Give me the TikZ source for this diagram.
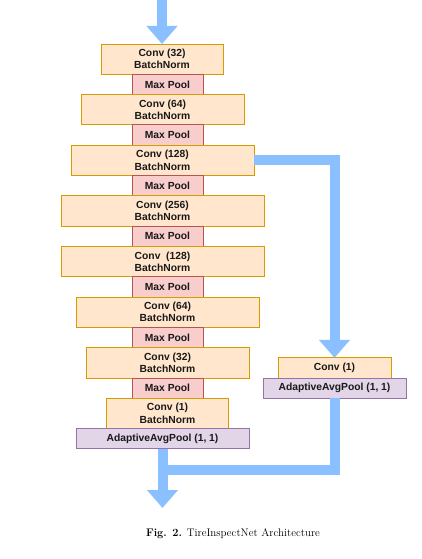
\documentclass[tikz,border=0pt]{standalone}
\usepackage{fontspec}
\newfontfamily\layerfont{Liberation Sans}
\usepackage{tikz}
\usetikzlibrary{arrows.meta, positioning}
\definecolor{convFill}{HTML}{FFE6CC}
\definecolor{convDraw}{HTML}{D79B00}
\definecolor{poolFill}{HTML}{F8CECC}
\definecolor{poolDraw}{HTML}{B85450}
\definecolor{avgFill}{HTML}{E1D5E7}
\definecolor{avgDraw}{HTML}{9673A6}
\definecolor{flowBlue}{RGB}{138, 192, 255}

\begin{document}
\begin{tikzpicture}[x=1pt, y=-1pt,
  node distance=0pt,
  layer/.style={rectangle, line width=0.8pt, inner sep=0pt, outer sep=0pt, align=center,
                text=black!90, font=\layerfont\bfseries\fontsize{10.3}{12.2}\selectfont},
  conv/.style={layer, draw=convDraw, fill=convFill, minimum height=30.3pt},
  pool/.style={layer, draw=poolDraw, fill=poolFill, minimum width=71pt, minimum height=20.3pt},
  avg/.style={layer, draw=avgDraw, fill=avgFill, minimum height=20.3pt},
  flow/.style={draw=flowBlue, line width=10pt, line join=miter,
               -{Triangle[length=18pt, width=30pt]}},
]
  \useasboundingbox (0,0) rectangle (422,559);

  \node[conv, minimum width=122pt] (c1) at (162,59.15) {Conv (32)\\BatchNorm};
  \node[pool, below=of c1, xshift=5.5pt] (m1) {Max Pool};
  \node[conv, minimum width=163pt, below=of m1, xshift=-5pt] (c2) {Conv (64)\\BatchNorm};
  \node[pool, below=of c2, xshift=5pt] (m2) {Max Pool};
  \node[conv, minimum width=183pt, below=of m2, xshift=-5pt] (c3) {Conv (128)\\BatchNorm};
  \node[pool, below=of c3, xshift=5pt] (m3) {Max Pool};
  \node[conv, minimum width=203pt, below=of m3, xshift=-5pt] (c4) {Conv (256)\\BatchNorm};
  \node[pool, below=of c4, xshift=5pt] (m4) {Max Pool};
  \node[conv, minimum width=203pt, below=of m4, xshift=-5pt] (c5) {Conv~ (128)\\BatchNorm};
  \node[pool, below=of c5, xshift=5pt] (m5) {Max Pool};
  \node[conv, minimum width=183pt, below=of m5] (c6) {Conv (64)\\BatchNorm};
  \node[pool, below=of c6] (m6) {Max Pool};
  \node[conv, minimum width=163pt, below=of m6] (c7) {Conv (32)\\BatchNorm};
  \node[pool, below=of c7] (m7) {Max Pool};
  \node[conv, minimum width=122pt, below=of m7] (c8) {Conv (1)\\BatchNorm};
  \node[avg, minimum width=173pt, below=of c8, xshift=-5pt] (a1) {AdaptiveAvgPool (1, 1)};

  % side branch
  \node[conv, minimum width=113pt, minimum height=20.3pt] (rc) at (334.5,368) {Conv (1)};
  \node[avg, minimum width=143pt, below=of rc] (ra) {AdaptiveAvgPool (1, 1)};

  \coordinate (src) at (c1.north |- 0,0);
  \coordinate (out) at (a1.south |- 0,508);
  \coordinate (merge) at (a1.south |- 0,469.5);

  \draw[flow] (src) -- (c1.north);
  \draw[flow] (c3.east) -| (rc.north);
  \draw[flow, -] (ra.south) |- (merge);
  \draw[flow] (a1.south) -- (out);

  \node[font=\fontsize{11}{13}\selectfont] (cap) at (233,534) {\textbf{Fig. 2.} TireInspectNet Architecture};
\end{tikzpicture}
\end{document}
